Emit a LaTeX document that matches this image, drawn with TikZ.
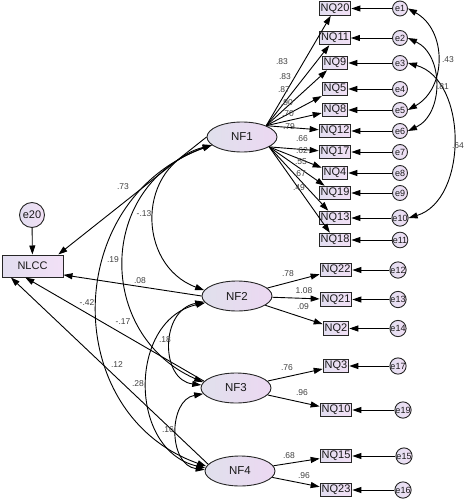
\documentclass[tikz,border=0pt]{standalone}
\usepackage{fontspec}
\setmainfont{Liberation Sans}
\usetikzlibrary{arrows.meta,shapes.geometric}
\definecolor{boxL}{RGB}{226,222,240}
\definecolor{boxR}{RGB}{242,224,246}
\definecolor{ellL}{RGB}{224,224,236}
\definecolor{ellR}{RGB}{236,216,242}
\begin{document}
\begin{tikzpicture}[x=1pt,y=-1pt,
  obs/.style={draw=black!85, line width=1pt, rectangle, left color=boxL, right color=boxR,
    font=\fontsize{11}{12}\selectfont, text=black!90, inner xsep=1.5pt, inner ysep=0pt, minimum height=13.5pt},
  lat/.style={draw=black!85, line width=0.9pt, ellipse, left color=ellL, right color=ellR,
    font=\fontsize{11.5}{12}\selectfont, text=black!90, inner sep=0pt, minimum width=70pt, minimum height=30pt},
  err/.style={draw=black!85, line width=0.9pt, circle, left color=boxL, right color=boxR,
    font=\fontsize{9}{10}\selectfont, text=black!90, inner sep=0pt, minimum size=15pt},
  lbl/.style={font=\fontsize{8.5}{9}\selectfont, text=black!75, inner sep=0pt},
  arr/.style={line width=0.9pt, -{Triangle[length=9pt,width=6pt]}},
  dbl/.style={line width=0.9pt, {Triangle[length=9pt,width=6pt]}-{Triangle[length=9pt,width=6pt]}}
]
\useasboundingbox (0,0) rectangle (474,500);

% latent variables
\node[lat] (NF1) at (242,137) {NF1};
\node[lat] (NF2) at (237,296) {NF2};
\node[lat] (NF3) at (236,388) {NF3};
\node[lat] (NF4) at (240,471) {NF4};

% outcome
\node[obs, minimum width=61pt, minimum height=22pt] (NLCC) at (32.5,266) {NLCC};
\node[err, minimum size=25pt, font=\fontsize{11}{12}\selectfont] (e20) at (32,215) {e20};
\draw[arr] (e20) -- (NLCC);

% indicators of NF1
\foreach \n/\y/\e in {NQ20/8.5/e1, NQ11/38/e2, NQ9/63/e3, NQ5/89/e4, NQ8/110/e5, NQ12/131/e6,
                      NQ17/152/e7, NQ4/173/e8, NQ19/193/e9, NQ13/218/e10, NQ18/240/e11}{
  \node[obs] (\n) at (335,\y) {\n};
  \node[err] (\e) at (400,\y) {\e};
  \draw[arr] (\e) -- (\n);
}
% indicators of NF2, NF3, NF4
\foreach \n/\y/\e/\ex in {NQ22/270/e12/398, NQ21/299.5/e13/398, NQ2/328.5/e14/398, NQ3/366/e17/398,
                          NQ10/410/e19/403, NQ15/456/e15/404, NQ23/490/e16/403}{
  \node[obs] (\n) at (336,\y) {\n};
  \node[err] (\e) at (\ex,\y) {\e};
  \draw[arr] (\e) -- (\n);
}

% loadings
\foreach \n in {NQ20,NQ11,NQ9,NQ5,NQ8,NQ12} \draw[arr] (NF1.25) -- (\n);
\foreach \n in {NQ17,NQ4,NQ19,NQ13,NQ18} \draw[arr] (NF1.-20) -- (\n);
\foreach \n in {NQ22,NQ21,NQ2} \draw[arr] (NF2) -- (\n);
\foreach \n in {NQ3,NQ10} \draw[arr] (NF3) -- (\n);
\foreach \n in {NQ15,NQ23} \draw[arr] (NF4) -- (\n);

% structural paths
\draw[arr] (NF1.west) -- (NLCC.24);
\draw[arr] (NF2.west) -- (NLCC.-16);
\draw[arr] (NF3.168) -- (NLCC.-122);
\draw[arr] (NF4.168) -- (NLCC.-152);

% covariances among factors
\draw[dbl] (NF1.195) .. controls (136,165) and (136,265) .. (NF2.170);
\draw[dbl] (NF1.195) .. controls (96,185) and (96,335) .. (NF3.170);
\draw[dbl] (NF1.195) .. controls (60,200) and (60,415) .. (NF4.172);
\draw[dbl] (NF2.190) .. controls (160,310) and (160,380) .. (NF3.175);
\draw[dbl] (NF2.192) .. controls (128,320) and (128,450) .. (NF4.175);
\draw[dbl] (NF3.190) .. controls (168,400) and (168,465) .. (NF4.178);

% error covariances
\draw[dbl] (e1.east) .. controls (447,30) and (447,88) .. (e5.east);
\draw[dbl] (e2.east) .. controls (444,55) and (444,114) .. (e6.east);
\draw[dbl] (e3.east) .. controls (468,80) and (468,200) .. (e10.east);

% labels: NF1 loadings
\node[lbl] (l1) at (282,62) {.83};
\node[lbl] (l2) at (285,77) {.83};
\node[lbl] (l3) at (284,90) {.87};
\node[lbl] (l4) at (287,103) {.90};
\node[lbl] (l5) at (288,114) {.70};
\node[lbl] (l6) at (289,127) {.79};
\node[lbl] (l7) at (302,139) {.66};
\node[lbl] (l8) at (302,151) {.62};
\node[lbl] (l9) at (301,162) {.55};
\node[lbl] (l10) at (300,174) {.67};
\node[lbl] (l11) at (299,188) {.49};
% NF2-NF4 loadings
\node[lbl] (l12) at (288,274) {.78};
\node[lbl] (l13) at (304,291) {1.08};
\node[lbl] (l14) at (303,307) {.09};
\node[lbl] (l15) at (287,368) {.76};
\node[lbl] (l16) at (302,393) {.96};
\node[lbl] (l17) at (289,456) {.68};
\node[lbl] (l18) at (304,476) {.96};
% left side
\node[lbl] (l19) at (123,187) {.73};
\node[lbl] (l20) at (144,214) {-.13};
\node[lbl] (l21) at (113,260) {.19};
\node[lbl] (l22) at (140,281) {.08};
\node[lbl] (l23) at (87,303) {-.42};
\node[lbl] (l24) at (123,322) {-.17};
\node[lbl] (l25) at (117,365) {.12};
\node[lbl] (l26) at (138,384) {.28};
\node[lbl] (l27) at (165,340) {.18};
\node[lbl] (l28) at (168,430) {.16};
% right side
\node[lbl] (l29) at (448,60) {.43};
\node[lbl] (l30) at (443,87) {.81};
\node[lbl] (l31) at (458,146) {.64};
\end{tikzpicture}
\end{document}
